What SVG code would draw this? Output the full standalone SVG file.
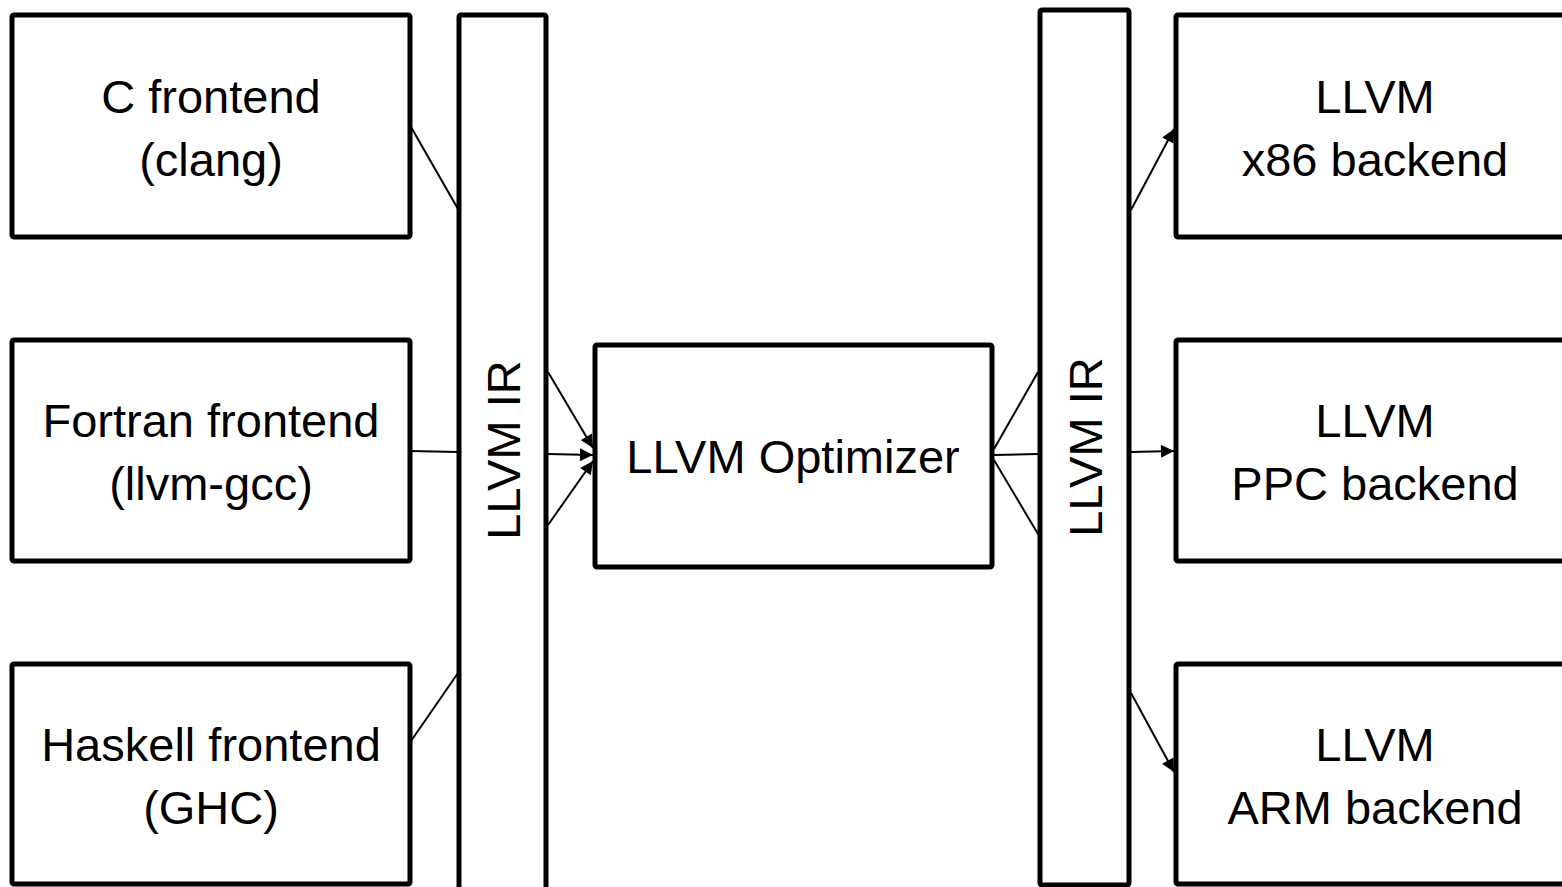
<svg xmlns="http://www.w3.org/2000/svg" width="1562" height="887" viewBox="0 0 1562 887">
<style>
.box{fill:#fff;stroke:#000;stroke-width:5}
.t{font-family:"Liberation Sans",Arial,sans-serif;font-size:47px;fill:#000;text-anchor:middle}
.c{stroke:#000;stroke-width:2;fill:none}
</style>
<defs>
<marker id="a" viewBox="0 0 10 10" refX="10" refY="5" markerWidth="7" markerHeight="6.5" orient="auto" markerUnits="strokeWidth">
<path d="M0,0 L10,5 L0,10 z" fill="#000"/>
</marker>
</defs>
<rect width="1562" height="887" fill="#fff"/>
<g id="connectors">
<line class="c" x1="411" y1="127" x2="458" y2="209"/>
<line class="c" x1="411" y1="451" x2="458" y2="452"/>
<line class="c" x1="411" y1="741" x2="458" y2="673"/>
<line class="c" x1="548" y1="372" x2="593" y2="448" marker-end="url(#a)"/>
<line class="c" x1="548" y1="454" x2="593" y2="455" marker-end="url(#a)"/>
<line class="c" x1="548" y1="525" x2="593" y2="461" marker-end="url(#a)"/>
<line class="c" x1="994" y1="449" x2="1038" y2="372"/>
<line class="c" x1="994" y1="455" x2="1038" y2="454"/>
<line class="c" x1="994" y1="460" x2="1038" y2="534"/>
<line class="c" x1="1131" y1="210" x2="1174" y2="129" marker-end="url(#a)"/>
<line class="c" x1="1131" y1="452" x2="1174" y2="451" marker-end="url(#a)"/>
<line class="c" x1="1131" y1="693" x2="1174" y2="772" marker-end="url(#a)"/>
</g>
<g id="c-frontend">
<rect class="box" x="12" y="15" width="398" height="222" rx="2"/>
<text class="t" x="211" y="113">C frontend</text>
<text class="t" x="211" y="176">(clang)</text>
</g>
<g id="fortran-frontend">
<rect class="box" x="12" y="340" width="398" height="221" rx="2"/>
<text class="t" x="211" y="437">Fortran frontend</text>
<text class="t" x="211" y="500">(llvm-gcc)</text>
</g>
<g id="haskell-frontend">
<rect class="box" x="12" y="664" width="398" height="220" rx="2"/>
<text class="t" x="211" y="761">Haskell frontend</text>
<text class="t" x="211" y="824">(GHC)</text>
</g>
<g id="llvm-ir-left">
<rect class="box" x="459" y="15" width="87" height="890" rx="2"/>
<text class="t" transform="translate(520,450) rotate(-90)">LLVM IR</text>
</g>
<g id="optimizer">
<rect class="box" x="595" y="345" width="397" height="222" rx="2"/>
<text class="t" x="793" y="473">LLVM Optimizer</text>
</g>
<g id="llvm-ir-right">
<rect class="box" x="1040" y="10" width="89" height="875" rx="2"/>
<text class="t" transform="translate(1102,447) rotate(-90)">LLVM IR</text>
</g>
<g id="x86-backend">
<rect class="box" x="1176" y="15" width="400" height="222" rx="2"/>
<text class="t" x="1375" y="113">LLVM</text>
<text class="t" x="1375" y="176">x86 backend</text>
</g>
<g id="ppc-backend">
<rect class="box" x="1176" y="340" width="400" height="221" rx="2"/>
<text class="t" x="1375" y="437">LLVM</text>
<text class="t" x="1375" y="500">PPC backend</text>
</g>
<g id="arm-backend">
<rect class="box" x="1176" y="664" width="400" height="220" rx="2"/>
<text class="t" x="1375" y="761">LLVM</text>
<text class="t" x="1375" y="824">ARM backend</text>
</g>
</svg>
